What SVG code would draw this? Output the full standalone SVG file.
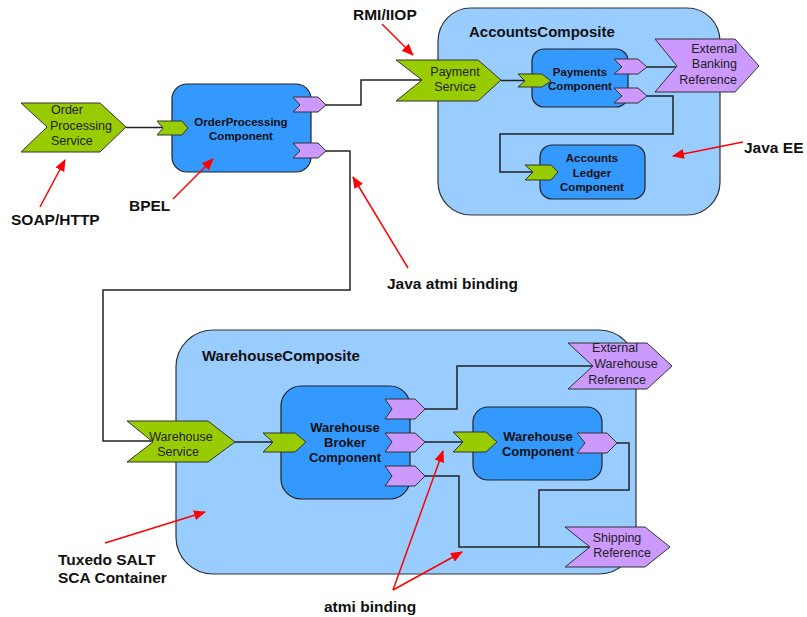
<svg xmlns="http://www.w3.org/2000/svg" width="807" height="617" viewBox="0 0 807 617">
<style>
.comp-box{fill:#99ccff;stroke:#333;stroke-width:1.2}
.cmp{fill:#3399ff;stroke:#222;stroke-width:1.2}
.svc{fill:#99cc00;stroke:#333;stroke-width:1}
.ref{fill:#cc99ff;stroke:#333;stroke-width:1}
.wire{fill:none;stroke:#222;stroke-width:1.5}
.note{fill:none;stroke:#ff0000;stroke-width:1.5}
.lbl{font-family:"Liberation Sans",Arial,sans-serif;font-weight:bold;font-size:15.5px;fill:#111}
.ctitle{font-family:"Liberation Sans",Arial,sans-serif;font-weight:bold;font-size:15px;fill:#111}
.ct{font-family:"Liberation Sans",Arial,sans-serif;font-weight:bold;font-size:11.5px;fill:#111;text-anchor:middle}
.ctl{font-family:"Liberation Sans",Arial,sans-serif;font-weight:bold;font-size:13px;fill:#111;text-anchor:middle}
.st{font-family:"Liberation Sans",Arial,sans-serif;font-size:12.5px;fill:#222}
</style>
<defs>
<marker id="ah" markerUnits="userSpaceOnUse" markerWidth="12" markerHeight="10" refX="11" refY="5" orient="auto">
<path d="M0,0 L12,5 L0,10 Z" fill="#ff0000"/>
</marker>
</defs>
<rect width="807" height="617" fill="#ffffff"/>

<g id="AccountsComposite">
<rect class="comp-box" x="438" y="8" width="282" height="207" rx="33"/>
<text class="ctitle" x="469" y="37">AccountsComposite</text>
</g>
<g id="WarehouseComposite">
<rect class="comp-box" x="176" y="330" width="460" height="244" rx="37"/>
<text class="ctitle" x="202" y="361">WarehouseComposite</text>
</g>

<g id="connectors">
<path class="wire" d="M126,127.5 H163"/>
<path class="wire" d="M326,105 H361 V80 H422"/>
<path class="wire" d="M326,151 H350 V290 H103 V441 H153"/>
<path class="wire" d="M501,80.5 H525"/>
<path class="wire" d="M647,67 H677"/>
<path class="wire" d="M647,96 H673 V134 H500 V172 H533"/>
<path class="wire" d="M235,442 H273"/>
<path class="wire" d="M425,409 H457 V366 H593"/>
<path class="wire" d="M425,442 H463"/>
<path class="wire" d="M425,476 H459 V547 H590"/>
<path class="wire" d="M617,443 H629 V490 H539 V547"/>
</g>

<g id="OrderProcessingService">
<polygon class="svc" points="21,103 100,103 126,127 100,152 21,152 47,127"/>
<text class="st" x="51" y="114">Order</text>
<text class="st" x="50" y="129.5">Processing</text>
<text class="st" x="51" y="145">Service</text>
</g>

<g id="OrderProcessingComponent">
<rect class="cmp" x="172" y="84" width="139" height="88" rx="15"/>
<text class="ct" x="241" y="126">OrderProcessing</text>
<text class="ct" x="241" y="140">Component</text>
<polygon class="svc" points="157,121 182,121 188,128 182,135 157,135 163,128"/>
<polygon class="ref" points="293,97 318,97 326,105 318,112 293,112 300,105"/>
<polygon class="ref" points="293,143 318,143 326,151 318,158 293,158 300,151"/>
</g>

<g id="PaymentService">
<polygon class="svc" points="396,60 478,60 501,80 478,101 396,101 422,80"/>
<text class="st" x="455" y="76" text-anchor="middle">Payment</text>
<text class="st" x="455" y="91" text-anchor="middle">Service</text>
</g>

<g id="PaymentsComponent">
<rect class="cmp" x="532" y="49" width="96" height="58" rx="12"/>
<text class="ct" x="580" y="76">Payments</text>
<text class="ct" x="580" y="90">Component</text>
<polygon class="svc" points="518,74 542,74 551,81 542,87 518,87 525,81"/>
<polygon class="ref" points="614,59 638,59 647,67 638,74 614,74 622,67"/>
<polygon class="ref" points="614,88 638,88 647,96 638,103 614,103 622,96"/>
</g>

<g id="ExternalBankingReference">
<polygon class="ref" points="655,39 735,39 759,66 735,92 655,92 677,66"/>
<text class="st" x="737" y="52.5" text-anchor="end">External</text>
<text class="st" x="737" y="68" text-anchor="end">Banking</text>
<text class="st" x="737" y="83.5" text-anchor="end">Reference</text>
</g>

<g id="AccountsLedgerComponent">
<rect class="cmp" x="540" y="145" width="105" height="54" rx="12"/>
<text class="ct" x="592" y="162">Accounts</text>
<text class="ct" x="592" y="176.5">Ledger</text>
<text class="ct" x="592" y="191">Component</text>
<polygon class="svc" points="525,165 551,165 558,172 551,180 525,180 533,172"/>
</g>

<g id="WarehouseService">
<polygon class="svc" points="127,421 208,421 235,442 208,462 127,462 153,442"/>
<text class="st" x="181" y="440.5" text-anchor="middle">Warehouse</text>
<text class="st" x="178" y="455.5" text-anchor="middle">Service</text>
</g>

<g id="WarehouseBrokerComponent">
<rect class="cmp" x="281" y="386" width="129" height="113" rx="20"/>
<text class="ctl" x="345" y="432">Warehouse</text>
<text class="ctl" x="345" y="447">Broker</text>
<text class="ctl" x="345" y="462">Component</text>
<polygon class="svc" points="263,433 295,433 306,442 295,452 263,452 273,442"/>
<polygon class="ref" points="385,399 415,399 425,409 415,419 385,419 392,409"/>
<polygon class="ref" points="385,433 415,433 425,442 415,452 385,452 392,442"/>
<polygon class="ref" points="385,466 415,466 425,476 415,486 385,486 392,476"/>
</g>

<g id="WarehouseComponent">
<rect class="cmp" x="473" y="407" width="129" height="73" rx="15"/>
<text class="ctl" x="538" y="440.5">Warehouse</text>
<text class="ctl" x="538" y="455.5">Component</text>
<polygon class="svc" points="453,432 486,432 497,442 486,452 453,452 463,442"/>
<polygon class="ref" points="577,433 607,433 617,443 607,453 577,453 585,443"/>
</g>

<g id="ExternalWarehouseReference">
<polygon class="ref" points="568,343 647,343 672,366 647,389 568,389 593,366"/>
<text class="st" x="615" y="352" text-anchor="middle">External</text>
<text class="st" x="626" y="368" text-anchor="middle">Warehouse</text>
<text class="st" x="617" y="384" text-anchor="middle">Reference</text>
</g>

<g id="ShippingReference">
<polygon class="ref" points="565,527 645,527 670,547 645,567 565,567 590,547"/>
<text class="st" x="617" y="542" text-anchor="middle">Shipping</text>
<text class="st" x="622" y="556.5" text-anchor="middle">Reference</text>
</g>

<g id="annotations">
<path class="note" d="M382,24 L413,55" marker-end="url(#ah)"/>
<path class="note" d="M40,207 L65,160" marker-end="url(#ah)"/>
<path class="note" d="M173,199 L213,159" marker-end="url(#ah)"/>
<path class="note" d="M408,268 L353,177" marker-end="url(#ah)"/>
<path class="note" d="M743,142 L673,156" marker-end="url(#ah)"/>
<path class="note" d="M105,543 L205,512" marker-end="url(#ah)"/>
<path class="note" d="M393,590 L443,451" marker-end="url(#ah)"/>
<path class="note" d="M393,590 L462,552" marker-end="url(#ah)"/>
<text class="lbl" x="353" y="20">RMI/IIOP</text>
<text class="lbl" x="11" y="225">SOAP/HTTP</text>
<text class="lbl" x="129" y="211">BPEL</text>
<text class="lbl" x="387" y="289">Java atmi binding</text>
<text class="lbl" x="744" y="153">Java EE</text>
<text class="lbl" x="58" y="565">Tuxedo SALT</text>
<text class="lbl" x="58" y="583">SCA Container</text>
<text class="lbl" x="324" y="612">atmi binding</text>
</g>
</svg>
